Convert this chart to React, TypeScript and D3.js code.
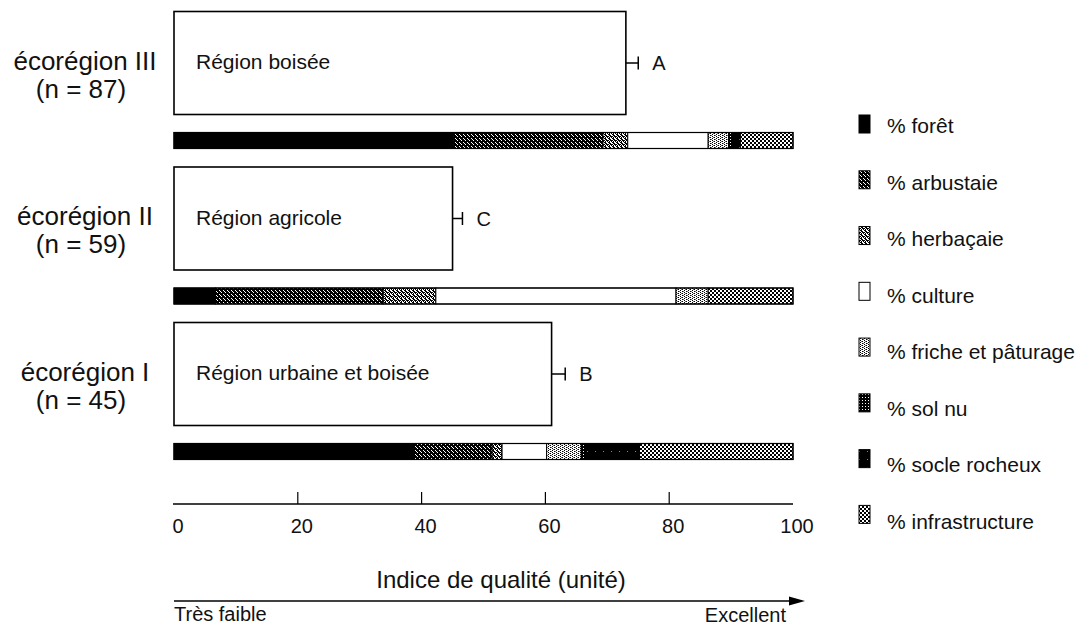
import React from "react";
import * as d3 from "d3";

const ecoregions = ["écorégion III", "écorégion II", "écorégion I"];
const sampleSizes = [87, 59, 45];
const regionTypes = ["Région boisée", "Région agricole", "Région urbaine et boisée"];
const qualityIndex = [73, 45, 61];
const errorMargin = [2, 1.6, 2.2];
const groupLetters = ["A", "C", "B"];

const landCovers = [
  "% forêt",
  "% arbustaie",
  "% herbaçaie",
  "% culture",
  "% friche et pâturage",
  "% sol nu",
  "% socle rocheux",
  "% infrastructure",
];
const coverIII = [45.2, 24.1, 4.0, 13.0, 3.3, 0.5, 1.4, 8.5];
const coverII = [6.7, 27.1, 8.5, 38.8, 5.2, 0, 0, 13.7];
const coverI = [38.7, 12.7, 1.6, 7.2, 5.6, 0.6, 8.8, 24.8];
const coverByRegion = [coverIII, coverII, coverI];

const xTicks = [0, 20, 40, 60, 80, 100];
const axisTitle = "Indice de qualité (unité)";
const lowLabel = "Très faible";
const highLabel = "Excellent";

const fills = [
  "#000",
  "url(#pArb)",
  "url(#pHerb)",
  "#fff",
  "url(#pFriche)",
  "url(#pSol)",
  "url(#pSocle)",
  "url(#pInfra)",
];

const FONT = "'Liberation Sans', Arial, Helvetica, sans-serif";

export default function App() {
  const width = 1084;
  const height = 630;
  const x = d3.scaleLinear().domain([0, 100]).range([174, 793]);
  const y = d3.scaleBand<string>().domain(ecoregions).range([11.5, 478]).padding(0);
  const boxH = 103;
  const barOff = 121;
  const barH = 16;
  const axisY = 504;

  const stacks = coverByRegion.map((vals) => {
    const cum = d3.cumsum(vals);
    return vals.map((v, i) => ({ v, start: cum[i] - v, end: cum[i], i }));
  });

  const legendY = d3.scalePoint<string>().domain(landCovers).range([133, 529]);

  return (
    <svg
      width={width}
      height={height}
      style={{ position: "absolute", left: 0, top: 0, background: "#fff" }}
      fontFamily={FONT}
    >
      <defs>
        <pattern id="pArb" width="4" height="4" patternUnits="userSpaceOnUse">
          <rect width="4" height="4" fill="#000" />
          <rect x="1" y="0" width="1" height="1" fill="#fff" />
          <rect x="3" y="2" width="1" height="1" fill="#fff" />
          <rect x="0" y="3" width="1" height="1" fill="#fff" />
        </pattern>
        <pattern id="pHerb" width="4" height="4" patternUnits="userSpaceOnUse">
          <rect width="4" height="4" fill="#fff" />
          <rect x="0" y="0" width="1" height="1" fill="#000" />
          <rect x="2" y="0" width="2" height="1" fill="#000" />
          <rect x="1" y="1" width="1" height="1" fill="#000" />
          <rect x="3" y="1" width="1" height="1" fill="#000" />
          <rect x="0" y="2" width="2" height="1" fill="#000" />
          <rect x="2" y="3" width="1" height="1" fill="#000" />
          <rect x="1" y="3" width="1" height="1" fill="#000" />
        </pattern>
        <pattern id="pFriche" width="4" height="4" patternUnits="userSpaceOnUse">
          <rect width="4" height="4" fill="#fff" />
          <rect x="0" y="0" width="1" height="1" fill="#000" />
          <rect x="2" y="1" width="1" height="1" fill="#000" />
          <rect x="0" y="2" width="1" height="1" fill="#000" />
          <rect x="2" y="3" width="1" height="1" fill="#000" />
          <rect x="1" y="1" width="1" height="1" fill="#777" />
          <rect x="3" y="3" width="1" height="1" fill="#777" />
        </pattern>
        <pattern id="pSol" width="3" height="3" patternUnits="userSpaceOnUse">
          <rect width="3" height="3" fill="#000" />
          <rect x="1" y="1" width="1" height="1" fill="#fff" />
        </pattern>
        <pattern id="pSocle" width="8" height="8" patternUnits="userSpaceOnUse">
          <rect width="8" height="8" fill="#000" />
          <rect x="3" y="3" width="1" height="1" fill="#888" />
        </pattern>
        <pattern id="pInfra" width="4" height="4" patternUnits="userSpaceOnUse">
          <rect width="4" height="4" fill="#fff" />
          <rect x="0" y="0" width="2" height="2" fill="#000" />
          <rect x="2" y="2" width="2" height="2" fill="#000" />
        </pattern>
      </defs>

      {ecoregions.map((name, r) => {
        const top = y(name)!;
        const cy = top + boxH / 2;
        const q = qualityIndex[r];
        const qe = q + errorMargin[r];
        return (
          <g key={name}>
            <text x={85} y={top + 58} fontSize={26} textAnchor="middle" fill="#111">
              {name}
            </text>
            <text x={81} y={top + 86} fontSize={26} textAnchor="middle" fill="#111">
              {`(n = ${sampleSizes[r]})`}
            </text>
            <rect
              x={x(0)}
              y={top}
              width={x(q) - x(0)}
              height={boxH}
              fill="#fff"
              stroke="#000"
              strokeWidth={1.6}
            />
            <text x={x(0) + 22} y={cy + 6} fontSize={21} fill="#111">
              {regionTypes[r]}
            </text>
            <line x1={x(q)} x2={x(qe)} y1={cy} y2={cy} stroke="#000" strokeWidth={1.5} />
            <line x1={x(qe)} x2={x(qe)} y1={cy - 6.5} y2={cy + 6.5} stroke="#000" strokeWidth={1.5} />
            <text x={x(qe) + 14} y={cy + 7} fontSize={20} fill="#111">
              {groupLetters[r]}
            </text>
            {stacks[r]
              .filter((s) => s.v > 0)
              .map((s) => (
                <rect
                  key={s.i}
                  x={x(s.start)}
                  y={top + barOff}
                  width={x(s.end) - x(s.start)}
                  height={barH}
                  fill={fills[s.i]}
                  stroke="#000"
                  strokeWidth={1}
                />
              ))}
            <rect
              x={x(0)}
              y={top + barOff}
              width={x(100) - x(0)}
              height={barH}
              fill="none"
              stroke="#000"
              strokeWidth={1.2}
            />
          </g>
        );
      })}

      {/* x axis */}
      <line x1={x(0) - 1} x2={x(100)} y1={axisY} y2={axisY} stroke="#000" strokeWidth={1.5} />
      {xTicks.map((t) => (
        <g key={t}>
          {t > 0 && t < 100 && (
            <line x1={x(t)} x2={x(t)} y1={axisY} y2={axisY - 12} stroke="#000" strokeWidth={1.2} />
          )}
          <text x={x(t) + 4} y={533} fontSize={20} textAnchor="middle" fill="#111">
            {t}
          </text>
        </g>
      ))}
      <text x={501} y={588} fontSize={24} textAnchor="middle" fill="#111">
        {axisTitle}
      </text>
      <line x1={x(0)} x2={x(100)} y1={601} y2={601} stroke="#000" strokeWidth={1.5} />
      <path
        d={`M${x(100) + 12},601 L${x(100) - 4},596.5 L${x(100) - 4},605.5 Z`}
        fill="#000"
      />
      <text x={x(0)} y={621} fontSize={20} fill="#111">
        {lowLabel}
      </text>
      <text x={786} y={622} fontSize={20} textAnchor="end" fill="#111">
        {highLabel}
      </text>

      {/* legend */}
      {landCovers.map((label, i) => {
        const by = legendY(label)!;
        return (
          <g key={label}>
            <rect
              x={859}
              y={by - 18 - i * 0.8}
              width={11}
              height={18}
              fill={fills[i]}
              stroke="#000"
              strokeWidth={1}
            />
            <text x={887} y={by} fontSize={21} fill="#111">
              {label}
            </text>
          </g>
        );
      })}
    </svg>
  );
}
